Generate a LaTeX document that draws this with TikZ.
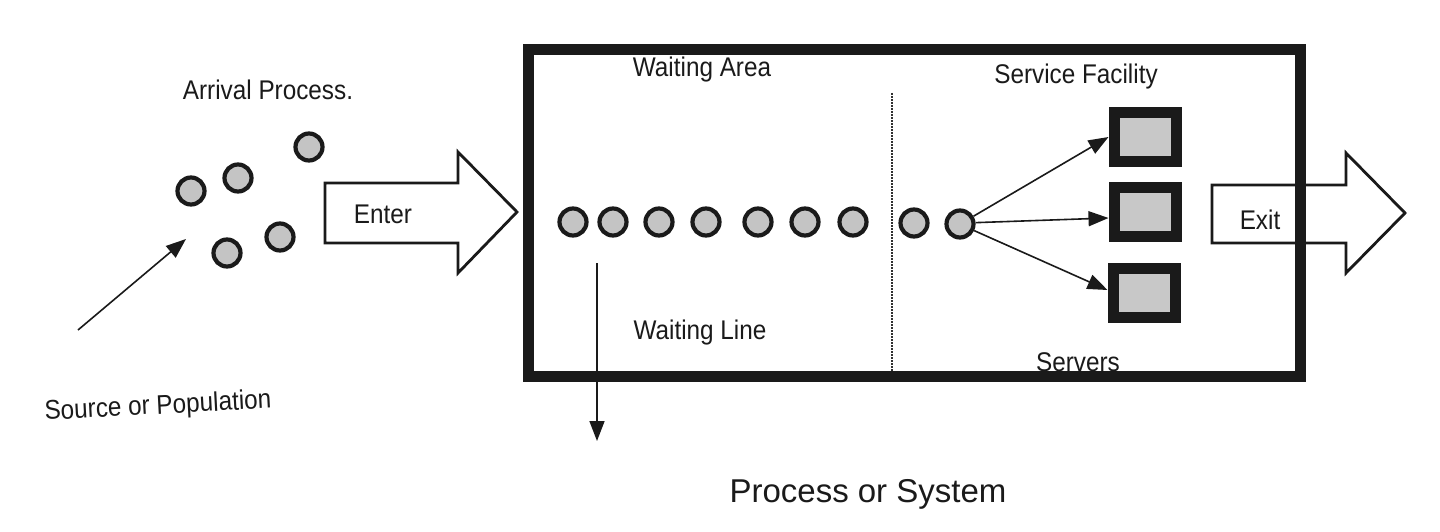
\documentclass[tikz,border=0pt]{standalone}
\usepackage{fontspec}
\setmainfont{Liberation Sans}
\newfontfamily\condfont[FakeStretch=0.9]{Liberation Sans}
\usetikzlibrary{arrows.meta}
\definecolor{ballgray}{HTML}{C4C4C4}
\definecolor{srvgray}{HTML}{C8C8C8}
\definecolor{ink}{HTML}{1A1A1A}
\tikzset{
  ball/.style={circle, draw=ink, line width=4.2pt, fill=ballgray, minimum size=27pt, inner sep=0pt},
  server/.style={rectangle, draw=ink, line width=11pt, fill=srvgray, minimum width=62pt, minimum height=49pt, inner sep=0pt},
  lbl/.style={font=\condfont\fontsize{27}{30}\selectfont, text=ink, inner sep=0pt},
  bigarrow/.style={draw=ink, line width=2.8pt, line join=miter},
  thinarrow/.style={draw=ink, line width=1.6pt, -{Triangle[length=20pt,width=15pt]}},
  sysbox/.style={draw=ink, line width=11pt},
}
\begin{document}
\begin{tikzpicture}[x=1pt,y=-1pt]
\useasboundingbox (0,0) rectangle (1440,532);
\fill[white] (0,0) rectangle (1440,532);

% arrival population
\node[ball] (a1) at (191,191) {};
\node[ball] (a2) at (238,178) {};
\node[ball] (a3) at (309,147) {};
\node[ball] (a4) at (227,253) {};
\node[ball] (a5) at (280,237) {};
\node[lbl] (arr) at (268,90) {Arrival Process.};
\node[lbl, rotate=3] (src) at (158,407) {Source or Population};
\coordinate (srcstart) at (78,330);
\coordinate (srcend) at (186,239);
\draw[thinarrow] (srcstart) -- (srcend);

% enter arrow
\draw[bigarrow] (325,183) -- (458,183) -- (458,152) -- (517,212) -- (458,273) -- (458,243) -- (325,243) -- cycle;
\node[lbl] (enter) at (383,214) {Enter};

% exit arrow
\draw[bigarrow] (1212,185) -- (1346,185) -- (1346,153) -- (1405,213) -- (1346,273) -- (1346,243) -- (1212,243) -- cycle;
\node[lbl] (exit) at (1260,220) {Exit};

% system box
\draw[sysbox] (528,50) rectangle (1300,376);
\draw[ink!90, line width=2pt, densely dotted] (892,93) -- (892,371);

\node[lbl] (warea) at (702,70) {Waiting Area};
\node[lbl] (wline) at (700,333) {Waiting Line};
\node[lbl] (sfac) at (1076,77) {Service Facility};
\node[lbl] (srv) at (1078,362) {Servers};

% queue
\node[ball] (q1) at (573,222) {};
\node[ball] (q2) at (613,222) {};
\node[ball] (q3) at (659,222) {};
\node[ball] (q4) at (706,222) {};
\node[ball] (q5) at (758,222) {};
\node[ball] (q6) at (805,222) {};
\node[ball] (q7) at (853,222) {};
\node[ball] (q8) at (914,223) {};
\node[ball] (q9) at (960,224) {};

% waiting line pointer
\coordinate (wlstart) at (597,263);
\coordinate (wlend) at (597,441);
\draw[thinarrow] (wlstart) -- (wlend);

% servers
\node[server] (s1) at (1145,137) {};
\node[server] (s2) at (1145,212) {};
\node[server] (s3) at (1144,293) {};
\draw[thinarrow] (q9.30) -- (s1.west);
\draw[thinarrow] (q9.5) -- ([yshift=-6pt]s2.west);
\draw[thinarrow] (q9.-25) -- ([yshift=3pt]s3.west);

\node[font=\fontsize{33}{38}\selectfont, text=ink, inner sep=0pt] (sys) at (868,494) {Process or System};
\end{tikzpicture}
\end{document}
